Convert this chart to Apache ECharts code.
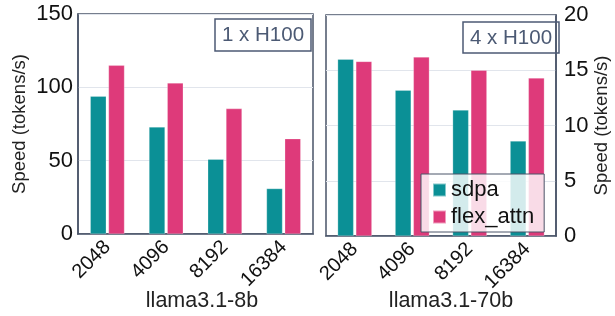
<!DOCTYPE html>
<html><head><meta charset="utf-8">
<script src="https://cdn.jsdelivr.net/npm/echarts@6/dist/echarts.min.js"></script>
<style>html,body{margin:0;padding:0;background:#fff;overflow:hidden;width:615px;height:316px}#c{width:615px;height:316px}</style>
</head><body><div id="c"></div>
<script>
const categories = ['2048', '4096', '8192', '16384'];
const sdpa8b = [94, 73, 51, 31];
const flex8b = [115, 103, 85.5, 65];
const sdpa70b = [16.0, 13.2, 11.4, 8.6];
const flex70b = [15.8, 16.2, 15.0, 14.3];
const leftTicks = [0, 150, 50];
const rightTicks = [0, 20, 5];
const panelNames = ['llama3.1-8b', 'llama3.1-70b'];
const panelNotes = ['1 x H100', '4 x H100'];
const seriesNames = ['sdpa', 'flex_attn'];

const FONT = 'Liberation Sans';
const TEAL = '#0b9096';
const PINK = '#de3a7a';
const EDGE = '#4a5468';
const NOTE = '#4c5a74';

const chart = echarts.init(document.getElementById('c'), null, {renderer: 'canvas', width: 615, height: 316});
function xAxis(i) {
  return {
    type: 'category', gridIndex: i, data: categories,
    name: panelNames[i], nameLocation: 'middle', nameGap: i === 0 ? 56 : 54,
    nameMoveOverlap: false,
    nameTextStyle: {fontFamily: FONT, fontSize: 21.5, color: '#222', padding: [0, 0, 0, i === 0 ? 13 : 20]},
    axisTick: {show: false},
    axisLine: {lineStyle: {color: EDGE, width: 1.5}},
    axisLabel: {rotate: 45, fontFamily: FONT, fontSize: 20, color: '#111', margin: 10, interval: 0}
  };
}
function yAxis(i, t, pos) {
  return {
    type: 'value', gridIndex: i, min: t[0], max: t[1], interval: t[2], position: pos,
    name: 'Speed (tokens/s)', nameLocation: 'middle', nameGap: pos === 'left' ? 49 : 36,
    nameRotate: 90,
    nameTextStyle: {fontFamily: FONT, fontSize: 18.5, color: '#222'},
    axisLine: {show: true, lineStyle: {color: EDGE, width: 1.5}},
    axisTick: {show: false},
    splitLine: {show: true, lineStyle: {color: '#e1e5ec', width: 1}},
    axisLabel: {fontFamily: FONT, fontSize: 22, color: '#111', margin: pos === 'left' ? 5 : 8}
  };
}
function bar(name, data, xi, color) {
  return {
    type: 'bar', name: name, data: data, xAxisIndex: xi, yAxisIndex: xi,
    barWidth: 16, barGap: '14%',
    itemStyle: {color: color, borderColor: 'rgba(255,255,255,0.5)', borderWidth: 0.5}
  };
}
chart.setOption({
  animation: false,
  backgroundColor: '#fff',
  grid: [
    {left: 78, top: 14, width: 235, height: 220, show: true, borderColor: EDGE, borderWidth: 1.5, backgroundColor: 'transparent', outerBoundsMode: 'none', containLabel: false},
    {left: 326, top: 15, width: 230, height: 221, show: true, borderColor: EDGE, borderWidth: 1.5, backgroundColor: 'transparent', outerBoundsMode: 'none', containLabel: false}
  ],
  title: [
    {text: panelNotes[0], left: 215, top: 19, padding: [6, 7, 5, 7], borderColor: NOTE, borderWidth: 1.5,
     textStyle: {fontFamily: FONT, fontSize: 20.5, fontWeight: 'normal', color: NOTE}},
    {text: panelNotes[1], left: 463, top: 22, padding: [6, 7, 4, 7], borderColor: NOTE, borderWidth: 1.5,
     textStyle: {fontFamily: FONT, fontSize: 20.5, fontWeight: 'normal', color: NOTE}}
  ],
  legend: {
    data: seriesNames, orient: 'vertical', left: 421, top: 174,
    backgroundColor: 'rgba(255,255,255,0.82)', borderColor: EDGE, borderWidth: 1,
    padding: [5, 10, 4, 11], itemWidth: 13, itemHeight: 13, itemGap: 5,
    icon: 'rect', z: 20,
    textStyle: {fontFamily: FONT, fontSize: 22, color: '#111'}
  },
  xAxis: [xAxis(0), xAxis(1)],
  yAxis: [yAxis(0, leftTicks, 'left'), yAxis(1, rightTicks, 'right')],
  series: [
    bar(seriesNames[0], sdpa8b, 0, TEAL),
    bar(seriesNames[1], flex8b, 0, PINK),
    bar(seriesNames[0], sdpa70b, 1, TEAL),
    bar(seriesNames[1], flex70b, 1, PINK)
  ]
});
</script></body></html>
